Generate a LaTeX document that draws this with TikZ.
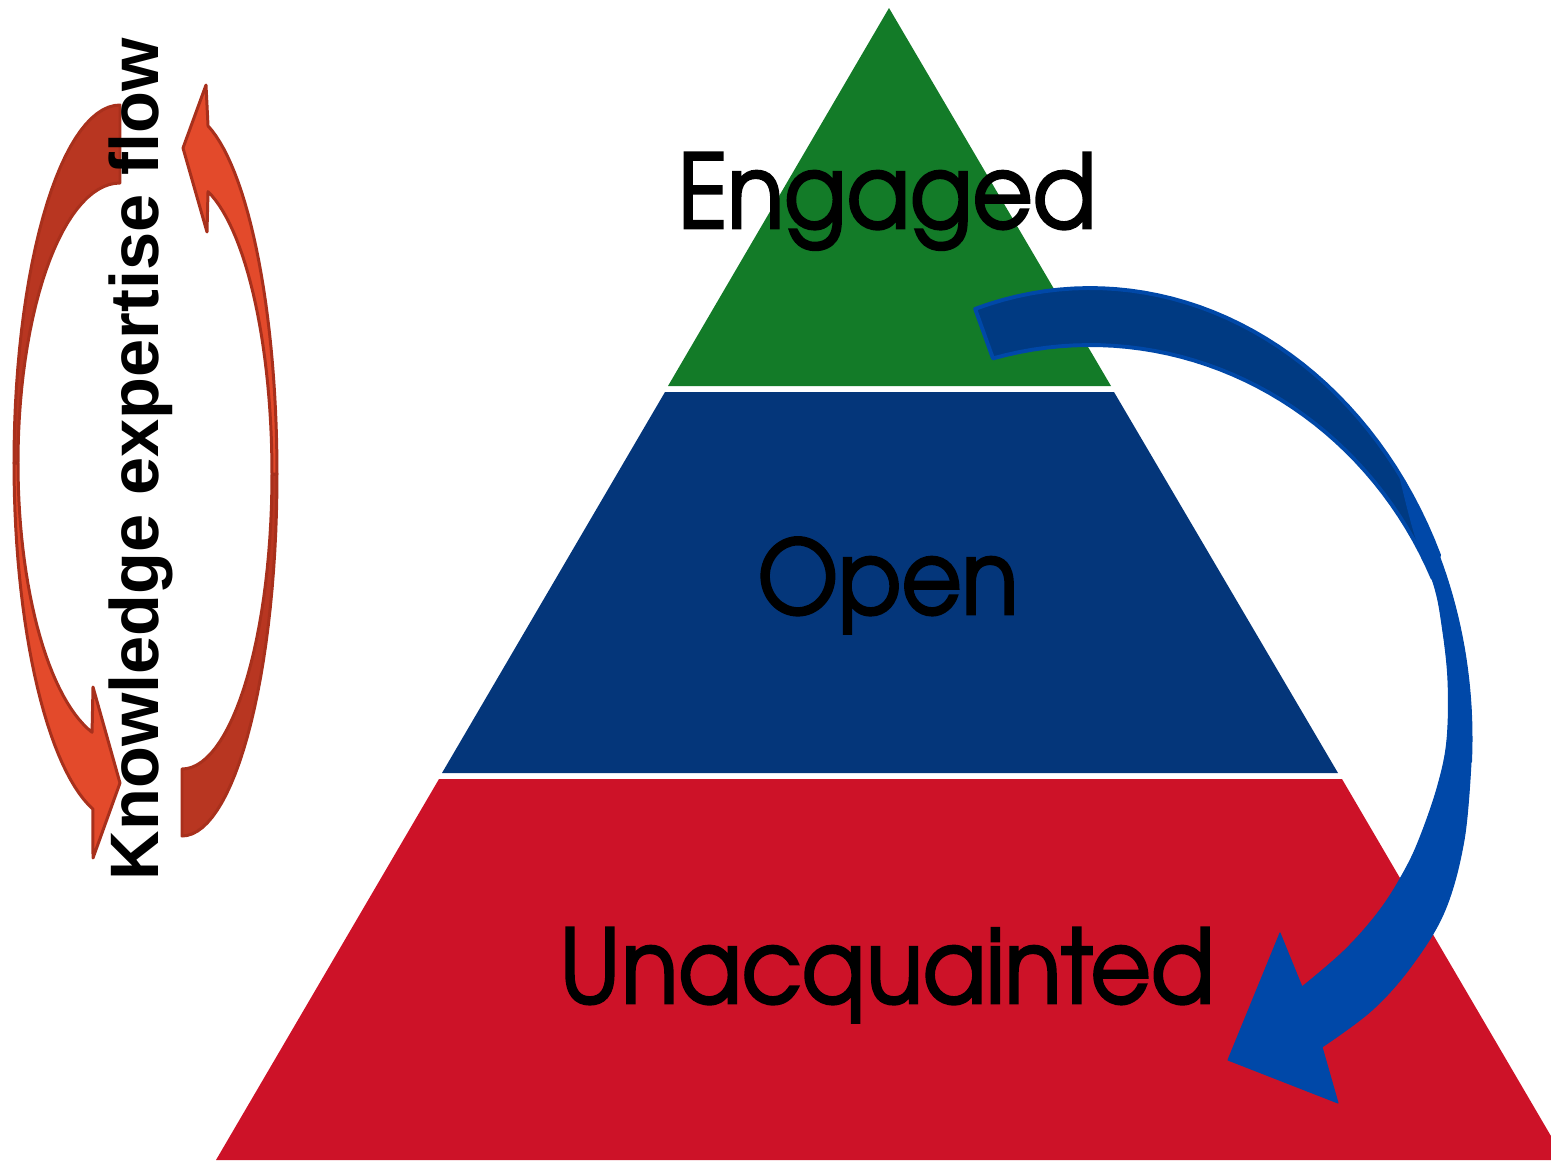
\documentclass[tikz,border=0pt]{standalone}
\usepackage{fontspec}
\usepackage{xcolor}
\setmainfont{TeX Gyre Adventor}[FakeStretch=0.91, FakeBold=2.5]
\newfontfamily\flowfont{Liberation Sans}

\definecolor{engaged}{RGB}{19,123,40}
\definecolor{openblue}{RGB}{4,54,122}
\definecolor{unacq}{RGB}{205,18,40}
\definecolor{arrowback}{RGB}{0,58,130}
\definecolor{arrowfront}{RGB}{0,72,168}
\definecolor{flowlight}{RGB}{227,74,43}
\definecolor{flowdark}{RGB}{184,54,33}
\definecolor{flowedge}{RGB}{168,48,28}

\tikzset{
    layer label/.style={font=\fontsize{29}{34}\selectfont, anchor=base, inner sep=0pt},
    flow label/.style={font=\flowfont\bfseries\fontsize{19.5}{22}\selectfont, anchor=base, inner sep=0pt},
    back band/.style={fill=arrowback, draw=arrowfront, line width=1.1pt, line join=round},
    front band/.style={fill=arrowfront, draw=arrowfront, line width=0.3pt, line join=round},
    flow back/.style={fill=flowdark, draw=flowedge, line width=0.85pt, line join=round},
    flow front/.style={fill=flowlight, draw=flowedge, line width=0.85pt, line join=round}
}

\begin{document}
\begin{tikzpicture}[x=0.01cm, y=-0.01cm]
    \useasboundingbox (0,0) rectangle (1551,1160);
    \clip (0,0) rectangle (1551,1160);

    % pyramid: three layers with thin white gaps
    \fill[engaged] (889,8) -- (1111,386) -- (668,386) -- cycle;
    \fill[openblue] (665,392) -- (1114,392) -- (1338,773) -- (442,773) -- cycle;
    \fill[unacq] (439,779) -- (1342,779) -- (1565,1160) -- (216,1160) -- cycle;

    % blue curved arrow, back part first (ellipse centre 1090,738)
    \filldraw[back band] plot[domain=107.5:24, samples=40] ({1090+382*cos(\x)}, {738-450*sin(\x)})
        -- plot[domain=24:105, samples=40] ({1090+375*cos(\x)}, {738-393*sin(\x)}) -- cycle;
    \fill[front band] plot[domain=36:-3, samples=30] ({1090+382*cos(\x)}, {738-450*sin(\x)})
        -- plot[smooth, tension=0.6] coordinates {(1471,762) (1464,840) (1445,910) (1412,965) (1372,1010) (1322,1047)}
        -- (1338,1103) -- (1228,1060) -- (1280,933) -- (1302,987)
        -- plot[smooth, tension=0.6] coordinates {(1302,987) (1345,950) (1380,910) (1405,870) (1421,835) (1438,785) (1447,740) (1448,680) (1442,625) (1434,585) (1415,535) (1399,473)} -- cycle;

    % left red arrow, running down (ellipse centre 120,463)
    \filldraw[flow back] plot[domain=90:180, samples=30] ({120+106*cos(\x)}, {463-358*sin(\x)})
        -- plot[domain=180:90, samples=30] ({120+102*cos(\x)}, {463-280*sin(\x)}) -- cycle;
    \filldraw[flow front] plot[domain=180:255.2, samples=30] ({120+106*cos(\x)}, {463-358*sin(\x)})
        -- (93,858) -- (120,783) -- (93,687)
        -- plot[domain=254.1:180, samples=30] ({120+102*cos(\x)}, {463-280*sin(\x)}) -- cycle;

    % right red arrow, running up (ellipse centre 182,474)
    \filldraw[flow back] plot[domain=-90:0, samples=30] ({182+95*cos(\x)}, {474-362*sin(\x)})
        -- plot[domain=0:-90, samples=30] ({182+90*cos(\x)}, {474-295*sin(\x)}) -- cycle;
    \filldraw[flow front] plot[domain=0:74.1, samples=30] ({182+95*cos(\x)}, {474-362*sin(\x)})
        -- (206,85) -- (183,148) -- (207,232)
        -- plot[domain=73.2:0, samples=30] ({182+90*cos(\x)}, {474-295*sin(\x)}) -- cycle;

    % labels
    \node[layer label] (engagedtxt) at (887,228) {Engaged};
    \node[layer label] (opentxt) at (888,614) {Open};
    \node[layer label] (unacqtxt) at (887,1003) {Unacquainted};
    \node[flow label, rotate=90] (flowtxt) at (158,459) {Knowledge expertise flow};
\end{tikzpicture}
\end{document}
